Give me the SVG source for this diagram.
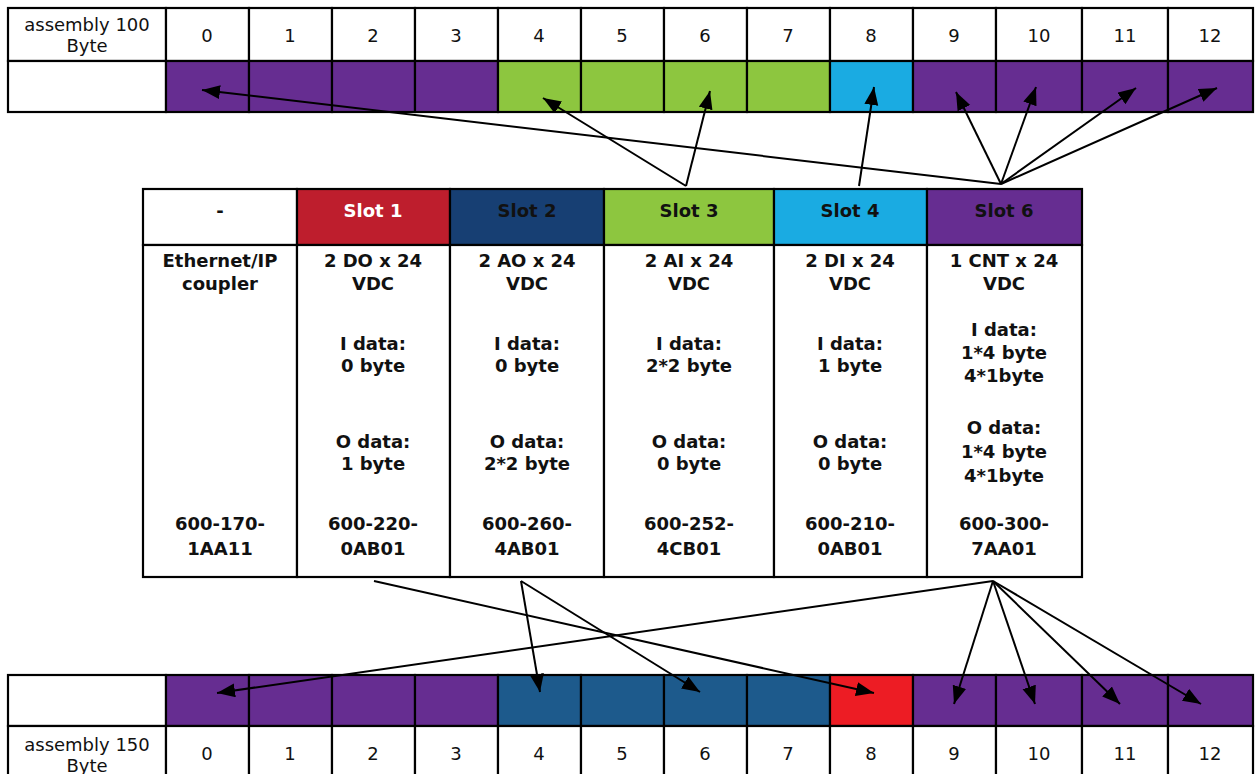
<svg xmlns="http://www.w3.org/2000/svg" width="1255" height="774" viewBox="0 0 1255 774">
<style>
.t{font-family:"DejaVu Sans","Liberation Sans",sans-serif;font-size:18px;fill:#111;text-anchor:middle}
.b{font-weight:bold}
.cell{stroke:#000;stroke-width:2.2}
.w{fill:#fff}
.pu{fill:#662D91}
.gr{fill:#8DC63F}
.cy{fill:#1AABE2}
.rd{fill:#BE1E2D}
.db{fill:#173F73}
.bl{fill:#1D5A8C}
.rb{fill:#ED1C24}
.con{stroke:#000;stroke-width:2;fill:none;marker-end:url(#ah)}
</style>
<defs>
<marker id="ah" markerUnits="userSpaceOnUse" markerWidth="20" markerHeight="16" refX="18" refY="7" orient="auto">
<path d="M0,0 L18,7 L0,14 Z" fill="#000"/>
</marker>
</defs>
<rect width="1255" height="774" fill="#fff"/>

<g id="assembly100">
<rect class="cell w" x="8" y="8" width="158" height="53"/>
<rect class="cell w" x="166" y="8" width="83" height="53"/>
<rect class="cell w" x="249" y="8" width="83" height="53"/>
<rect class="cell w" x="332" y="8" width="83" height="53"/>
<rect class="cell w" x="415" y="8" width="83" height="53"/>
<rect class="cell w" x="498" y="8" width="83" height="53"/>
<rect class="cell w" x="581" y="8" width="83" height="53"/>
<rect class="cell w" x="664" y="8" width="83" height="53"/>
<rect class="cell w" x="747" y="8" width="83" height="53"/>
<rect class="cell w" x="830" y="8" width="83" height="53"/>
<rect class="cell w" x="913" y="8" width="83" height="53"/>
<rect class="cell w" x="996" y="8" width="86" height="53"/>
<rect class="cell w" x="1082" y="8" width="86" height="53"/>
<rect class="cell w" x="1168" y="8" width="85" height="53"/>
<rect class="cell w" x="8" y="61" width="158" height="51"/>
<rect class="cell pu" x="166" y="61" width="83" height="51"/>
<rect class="cell pu" x="249" y="61" width="83" height="51"/>
<rect class="cell pu" x="332" y="61" width="83" height="51"/>
<rect class="cell pu" x="415" y="61" width="83" height="51"/>
<rect class="cell gr" x="498" y="61" width="83" height="51"/>
<rect class="cell gr" x="581" y="61" width="83" height="51"/>
<rect class="cell gr" x="664" y="61" width="83" height="51"/>
<rect class="cell gr" x="747" y="61" width="83" height="51"/>
<rect class="cell cy" x="830" y="61" width="83" height="51"/>
<rect class="cell pu" x="913" y="61" width="83" height="51"/>
<rect class="cell pu" x="996" y="61" width="86" height="51"/>
<rect class="cell pu" x="1082" y="61" width="86" height="51"/>
<rect class="cell pu" x="1168" y="61" width="85" height="51"/>
<text class="t" x="87" y="31">assembly 100</text>
<text class="t" x="87" y="52">Byte</text>
<text class="t" x="207" y="42">0</text>
<text class="t" x="290" y="42">1</text>
<text class="t" x="373" y="42">2</text>
<text class="t" x="456" y="42">3</text>
<text class="t" x="539" y="42">4</text>
<text class="t" x="622" y="42">5</text>
<text class="t" x="705" y="42">6</text>
<text class="t" x="788" y="42">7</text>
<text class="t" x="871" y="42">8</text>
<text class="t" x="954" y="42">9</text>
<text class="t" x="1039" y="42">10</text>
<text class="t" x="1125" y="42">11</text>
<text class="t" x="1210" y="42">12</text>
</g>

<g id="modules">
<rect class="cell w" x="143" y="189" width="154" height="56"/>
<rect class="cell rd" x="297" y="189" width="153" height="56"/>
<rect class="cell db" x="450" y="189" width="154" height="56"/>
<rect class="cell gr" x="604" y="189" width="170" height="56"/>
<rect class="cell cy" x="774" y="189" width="153" height="56"/>
<rect class="cell pu" x="927" y="189" width="155" height="56"/>
<rect class="cell w" x="143" y="245" width="154" height="332"/>
<rect class="cell w" x="297" y="245" width="153" height="332"/>
<rect class="cell w" x="450" y="245" width="154" height="332"/>
<rect class="cell w" x="604" y="245" width="170" height="332"/>
<rect class="cell w" x="774" y="245" width="153" height="332"/>
<rect class="cell w" x="927" y="245" width="155" height="332"/>
<text class="t b" x="220" y="217">-</text>
<text class="t b" x="373" y="217" style="fill:#fff">Slot 1</text>
<text class="t b" x="527" y="217">Slot 2</text>
<text class="t b" x="689" y="217">Slot 3</text>
<text class="t b" x="850" y="217">Slot 4</text>
<text class="t b" x="1004" y="217">Slot 6</text>

<text class="t b" x="220" y="267">Ethernet/IP</text>
<text class="t b" x="220" y="290">coupler</text>
<text class="t b" x="220" y="530">600-170-</text>
<text class="t b" x="220" y="555">1AA11</text>

<text class="t b" x="373" y="267">2 DO x 24</text>
<text class="t b" x="373" y="290">VDC</text>
<text class="t b" x="373" y="350">I data:</text>
<text class="t b" x="373" y="372">0 byte</text>
<text class="t b" x="373" y="448">O data:</text>
<text class="t b" x="373" y="470">1 byte</text>
<text class="t b" x="373" y="530">600-220-</text>
<text class="t b" x="373" y="555">0AB01</text>

<text class="t b" x="527" y="267">2 AO x 24</text>
<text class="t b" x="527" y="290">VDC</text>
<text class="t b" x="527" y="350">I data:</text>
<text class="t b" x="527" y="372">0 byte</text>
<text class="t b" x="527" y="448">O data:</text>
<text class="t b" x="527" y="470">2*2 byte</text>
<text class="t b" x="527" y="530">600-260-</text>
<text class="t b" x="527" y="555">4AB01</text>

<text class="t b" x="689" y="267">2 AI x 24</text>
<text class="t b" x="689" y="290">VDC</text>
<text class="t b" x="689" y="350">I data:</text>
<text class="t b" x="689" y="372">2*2 byte</text>
<text class="t b" x="689" y="448">O data:</text>
<text class="t b" x="689" y="470">0 byte</text>
<text class="t b" x="689" y="530">600-252-</text>
<text class="t b" x="689" y="555">4CB01</text>

<text class="t b" x="850" y="267">2 DI x 24</text>
<text class="t b" x="850" y="290">VDC</text>
<text class="t b" x="850" y="350">I data:</text>
<text class="t b" x="850" y="372">1 byte</text>
<text class="t b" x="850" y="448">O data:</text>
<text class="t b" x="850" y="470">0 byte</text>
<text class="t b" x="850" y="530">600-210-</text>
<text class="t b" x="850" y="555">0AB01</text>

<text class="t b" x="1004" y="267">1 CNT x 24</text>
<text class="t b" x="1004" y="290">VDC</text>
<text class="t b" x="1004" y="336">I data:</text>
<text class="t b" x="1004" y="359">1*4 byte</text>
<text class="t b" x="1004" y="382">4*1byte</text>
<text class="t b" x="1004" y="434">O data:</text>
<text class="t b" x="1004" y="458">1*4 byte</text>
<text class="t b" x="1004" y="482">4*1byte</text>
<text class="t b" x="1004" y="530">600-300-</text>
<text class="t b" x="1004" y="555">7AA01</text>
</g>

<g id="assembly150">
<rect class="cell w" x="8" y="675" width="158" height="51"/>
<rect class="cell pu" x="166" y="675" width="83" height="51"/>
<rect class="cell pu" x="249" y="675" width="83" height="51"/>
<rect class="cell pu" x="332" y="675" width="83" height="51"/>
<rect class="cell pu" x="415" y="675" width="83" height="51"/>
<rect class="cell bl" x="498" y="675" width="83" height="51"/>
<rect class="cell bl" x="581" y="675" width="83" height="51"/>
<rect class="cell bl" x="664" y="675" width="83" height="51"/>
<rect class="cell bl" x="747" y="675" width="83" height="51"/>
<rect class="cell rb" x="830" y="675" width="83" height="51"/>
<rect class="cell pu" x="913" y="675" width="83" height="51"/>
<rect class="cell pu" x="996" y="675" width="86" height="51"/>
<rect class="cell pu" x="1082" y="675" width="86" height="51"/>
<rect class="cell pu" x="1168" y="675" width="85" height="51"/>
<rect class="cell w" x="8" y="726" width="158" height="54"/>
<rect class="cell w" x="166" y="726" width="83" height="54"/>
<rect class="cell w" x="249" y="726" width="83" height="54"/>
<rect class="cell w" x="332" y="726" width="83" height="54"/>
<rect class="cell w" x="415" y="726" width="83" height="54"/>
<rect class="cell w" x="498" y="726" width="83" height="54"/>
<rect class="cell w" x="581" y="726" width="83" height="54"/>
<rect class="cell w" x="664" y="726" width="83" height="54"/>
<rect class="cell w" x="747" y="726" width="83" height="54"/>
<rect class="cell w" x="830" y="726" width="83" height="54"/>
<rect class="cell w" x="913" y="726" width="83" height="54"/>
<rect class="cell w" x="996" y="726" width="86" height="54"/>
<rect class="cell w" x="1082" y="726" width="86" height="54"/>
<rect class="cell w" x="1168" y="726" width="85" height="54"/>
<text class="t" x="87" y="751">assembly 150</text>
<text class="t" x="87" y="772">Byte</text>
<text class="t" x="207" y="760">0</text>
<text class="t" x="290" y="760">1</text>
<text class="t" x="373" y="760">2</text>
<text class="t" x="456" y="760">3</text>
<text class="t" x="539" y="760">4</text>
<text class="t" x="622" y="760">5</text>
<text class="t" x="705" y="760">6</text>
<text class="t" x="788" y="760">7</text>
<text class="t" x="871" y="760">8</text>
<text class="t" x="954" y="760">9</text>
<text class="t" x="1039" y="760">10</text>
<text class="t" x="1125" y="760">11</text>
<text class="t" x="1210" y="760">12</text>
</g>

<g id="connectors">
<line class="con" x1="686" y1="186" x2="543" y2="98"/>
<line class="con" x1="686" y1="186" x2="710" y2="91"/>
<line class="con" x1="859" y1="186" x2="874" y2="87"/>
<line class="con" x1="1001" y1="184" x2="202" y2="90"/>
<line class="con" x1="1001" y1="184" x2="956" y2="92"/>
<line class="con" x1="1001" y1="184" x2="1036" y2="87"/>
<line class="con" x1="1001" y1="184" x2="1136" y2="88"/>
<line class="con" x1="1001" y1="184" x2="1217" y2="88"/>
<line class="con" x1="374" y1="581" x2="874" y2="693"/>
<line class="con" x1="521" y1="581" x2="540" y2="692"/>
<line class="con" x1="521" y1="581" x2="700" y2="692"/>
<line class="con" x1="993" y1="581" x2="217" y2="693"/>
<line class="con" x1="993" y1="581" x2="954" y2="704"/>
<line class="con" x1="993" y1="581" x2="1035" y2="704"/>
<line class="con" x1="993" y1="581" x2="1120" y2="704"/>
<line class="con" x1="993" y1="581" x2="1201" y2="704"/>
</g>
</svg>
